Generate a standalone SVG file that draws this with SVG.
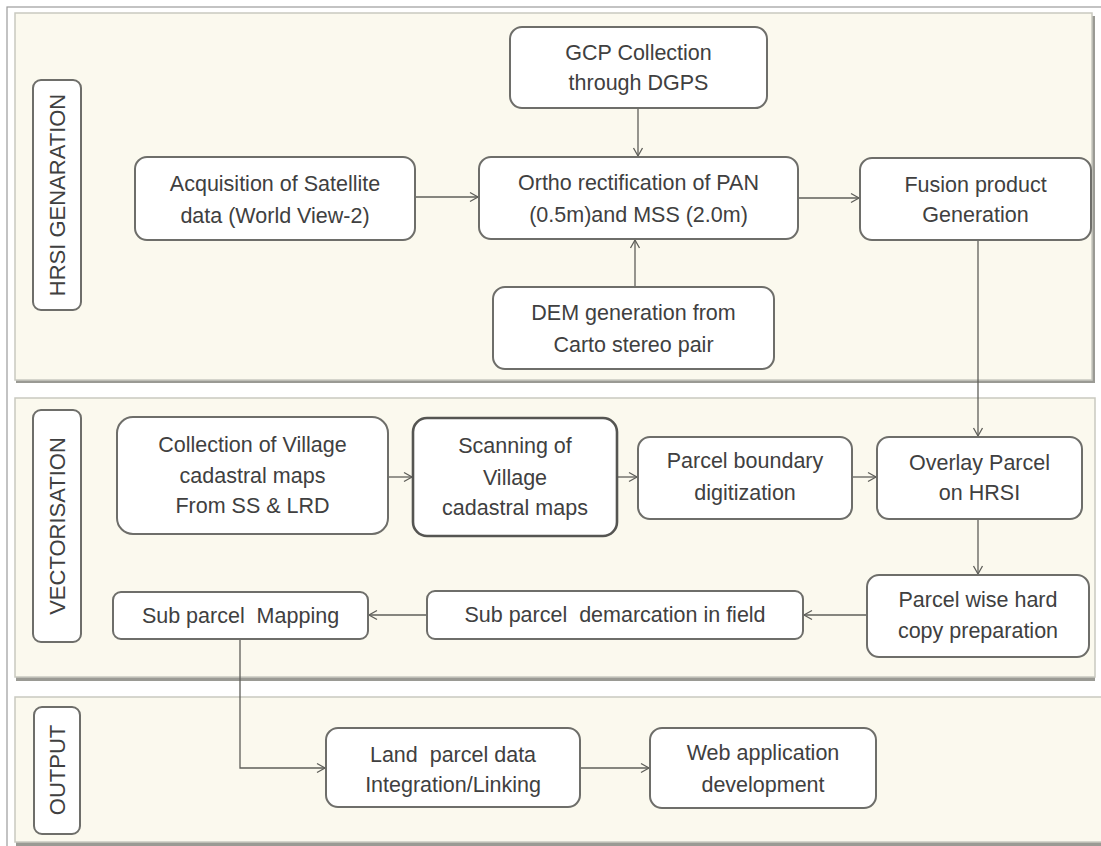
<svg xmlns="http://www.w3.org/2000/svg" width="1101" height="846" viewBox="0 0 1101 846">
<style>
.panel{fill:#fbf9ee;stroke:#c9c9c0;stroke-width:1.5}
.shadow{fill:#9a9a94}
.node{fill:#ffffff;stroke:#6e6e6a;stroke-width:2}
.side{fill:#ffffff;stroke:#6e6e6a;stroke-width:2}
.t{font-family:"Liberation Sans",Arial,sans-serif;font-size:21.5px;fill:#404040;text-anchor:middle;white-space:pre}
.st{font-family:"Liberation Sans",Arial,sans-serif;font-size:22px;fill:#404040;text-anchor:middle}
.c{fill:none;stroke:#5f5f5a;stroke-width:1.3}
</style>
<defs>
<marker id="arr" markerUnits="userSpaceOnUse" markerWidth="12" markerHeight="12" refX="9" refY="6" orient="auto">
<path d="M1,1.5 L9,6 L1,10.5" fill="none" stroke="#5f5f5a" stroke-width="1.3"/>
</marker>
</defs>
<rect x="0" y="0" width="1101" height="846" fill="#ffffff"/>
<rect x="7" y="7" width="1100" height="850" fill="#ffffff" stroke="#9c9c9c" stroke-width="1.2"/>
<g id="panels">
<rect class="shadow" x="16" y="16" width="1079" height="367"/>
<rect class="panel" x="15" y="13" width="1077" height="367"/>
<rect class="shadow" x="16" y="401" width="1079" height="280"/>
<rect class="panel" x="15" y="398" width="1080" height="279"/>
<rect class="shadow" x="16" y="700" width="1090" height="146"/>
<rect class="panel" x="15" y="697" width="1090" height="145"/>
</g>
<g id="lane-hrsi">
<rect class="side" x="33" y="80" width="48" height="230" rx="8"/>
<text class="st" transform="translate(65,195) rotate(-90)">HRSI GENARATION</text>
</g>
<g id="lane-vector">
<rect class="side" x="33" y="410" width="48" height="232" rx="8"/>
<text class="st" transform="translate(65,526) rotate(-90)">VECTORISATION</text>
</g>
<g id="lane-output">
<rect class="side" x="34" y="707" width="46" height="127" rx="8"/>
<text class="st" transform="translate(65,770) rotate(-90)">OUTPUT</text>
</g>
<g id="connectors">
<path class="c" d="M415,197 H478" marker-end="url(#arr)"/>
<path class="c" d="M638,108 V156" marker-end="url(#arr)"/>
<path class="c" d="M635,287 V240" marker-end="url(#arr)"/>
<path class="c" d="M798,198 H859" marker-end="url(#arr)"/>
<path class="c" d="M978,240 V436" marker-end="url(#arr)"/>
<path class="c" d="M388,477 H412" marker-end="url(#arr)"/>
<path class="c" d="M617,477 H637" marker-end="url(#arr)"/>
<path class="c" d="M852,477 H876" marker-end="url(#arr)"/>
<path class="c" d="M978,519 V574" marker-end="url(#arr)"/>
<path class="c" d="M867,615 H804" marker-end="url(#arr)"/>
<path class="c" d="M427,615 H369" marker-end="url(#arr)"/>
<path class="c" d="M240,639 V768 H325" marker-end="url(#arr)"/>
<path class="c" d="M580,768 H649" marker-end="url(#arr)"/>
</g>
<g id="acq">
<rect class="node" x="135" y="157" width="280" height="83" rx="12"/>
<text class="t" x="275" y="191">Acquisition of Satellite</text>
<text class="t" x="275" y="223">data (World View-2)</text>
</g>
<g id="gcp">
<rect class="node" x="510" y="27" width="257" height="81" rx="12"/>
<text class="t" x="638.5" y="60">GCP Collection</text>
<text class="t" x="638.5" y="90">through DGPS</text>
</g>
<g id="ortho">
<rect class="node" x="479" y="157" width="319" height="82" rx="12"/>
<text class="t" x="638.5" y="190">Ortho rectification of PAN</text>
<text class="t" x="638.5" y="222">(0.5m)and MSS (2.0m)</text>
</g>
<g id="fusion">
<rect class="node" x="860" y="158" width="231" height="82" rx="12"/>
<text class="t" x="975.5" y="192">Fusion product</text>
<text class="t" x="975.5" y="222">Generation</text>
</g>
<g id="dem">
<rect class="node" x="493" y="287" width="281" height="82" rx="12"/>
<text class="t" x="633.5" y="320">DEM generation from</text>
<text class="t" x="633.5" y="352">Carto stereo pair</text>
</g>
<g id="collection">
<rect class="node" x="117" y="417" width="271" height="117" rx="16"/>
<text class="t" x="252.5" y="452">Collection of Village</text>
<text class="t" x="252.5" y="483">cadastral maps</text>
<text class="t" x="252.5" y="513">From SS &amp; LRD</text>
</g>
<g id="scanning">
<rect class="node" x="413" y="418" width="204" height="118" rx="14" style="stroke:#555552;stroke-width:2.6"/>
<text class="t" x="515" y="453">Scanning of</text>
<text class="t" x="515" y="485">Village</text>
<text class="t" x="515" y="515">cadastral maps</text>
</g>
<g id="boundary">
<rect class="node" x="638" y="437" width="214" height="82" rx="12"/>
<text class="t" x="745" y="468">Parcel boundary</text>
<text class="t" x="745" y="500">digitization</text>
</g>
<g id="overlay">
<rect class="node" x="877" y="437" width="205" height="82" rx="12"/>
<text class="t" x="979.5" y="470">Overlay Parcel</text>
<text class="t" x="979.5" y="500">on HRSI</text>
</g>
<g id="hardcopy">
<rect class="node" x="867" y="575" width="222" height="82" rx="12"/>
<text class="t" x="978" y="607">Parcel wise hard</text>
<text class="t" x="978" y="638">copy preparation</text>
</g>
<g id="demarcation">
<rect class="node" x="427" y="591" width="376" height="48" rx="8"/>
<text class="t" x="615" y="622">Sub parcel  demarcation in field</text>
</g>
<g id="mapping">
<rect class="node" x="113" y="592" width="255" height="47" rx="8"/>
<text class="t" x="240.5" y="623">Sub parcel  Mapping</text>
</g>
<g id="land">
<rect class="node" x="326" y="728" width="254" height="79" rx="12"/>
<text class="t" x="453" y="762">Land  parcel data</text>
<text class="t" x="453" y="792">Integration/Linking</text>
</g>
<g id="web">
<rect class="node" x="650" y="728" width="226" height="80" rx="12"/>
<text class="t" x="763" y="760">Web application</text>
<text class="t" x="763" y="792">development</text>
</g>
</svg>
